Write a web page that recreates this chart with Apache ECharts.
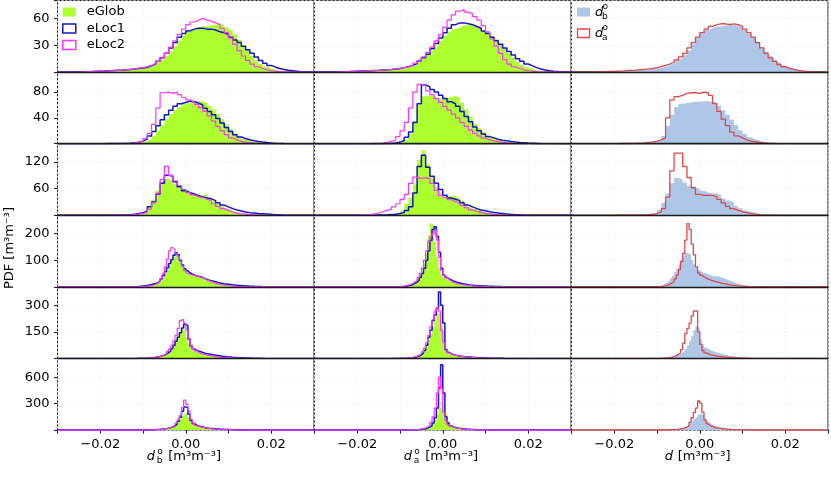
<!DOCTYPE html>
<html><head><meta charset="utf-8">
<script src="https://cdn.jsdelivr.net/npm/echarts@6/dist/echarts.min.js"></script>
<style>html,body{margin:0;padding:0;background:#fff}#c{width:831px;height:478px}</style>
</head><body><div id="c"></div>
<script>
// ---- bin layout per row ----
const rowBinStart = [-0.025, -0.02, -0.02, -0.012, -0.012, -0.012];
const rowBinWidth = [0.001, 0.001, 0.001, 0.0005, 0.0005, 0.0005];
const rowYMax = [80, 111, 161, 268, 404, 812];
const rowYStep = [30, 40, 60, 100, 150, 300];
const xLabelValues = [-0.02, 0, 0.02];
const seriesNames = ['eGlob', 'eLoc1', 'eLoc2'];

// ---- row 1 ----
const glob_b1 = [0.5,0.5,0.5,1,1,1,1.5,1.5,2,2, 2.5,3,3,3.5,4, 5,6,8,11,14,18,23,29,35,41, 45,48,50,51,51,52,53,54,53,50, 47,42,36,30,24,18,13,9,6,4, 2.5,1.5,1,0.5,0.3];
const loc1_b1 = [0.5,0.5,0.7,1,1,1.2,1.5,1.7,2,2.2, 2.5,3,3.5,4,4.5, 5.5,7,9,12,16,21,27,33,39,43, 46,48,49,49,48,48,47,45,44,42, 39,36,33,29,25,21,17,13,10,7.5, 5.5,4,3,2,1.5,1,0.5,0.3];
const loc2_b1 = [0.3,0.5,0.5,0.7,1,1,1.3,1.5,2,2.2, 2.5,3,3.5,4.5,5, 6,7.5,9.5,12,16,21,28,35,42,48, 53,56,58,60,58,57,55,53,49,44, 38,31,24,18,13,9,6,4,2.5,1.5, 1,0.5,0.3];
const glob_a1 = [0.3,0.5,0.5,0.7,0.8,1,1.2,1.4,1.6,1.8, 2,2.3,2.7,3,3.5, 4,5,6.5,8.5,11,15,19,24,29,35, 41,45,48,50,52,53,52,51,49,46, 44,41,37,32,27,21,16,11,8,5.5, 3.5,2,1.2,0.7,0.4];
const loc1_a1 = [0.3,0.5,0.6,0.8,1,1.2,1.4,1.6,1.8,2, 2.3,2.6,3,3.5,4, 5,6,7.5,9.5,12.5,16,20,26,32,38, 44,49,53,55,55,54,53,51,49,46, 43,39,35,31,27,23,19,15,12,9, 7,5,3.5,2.3,1.5,1,0.6,0.3];
const loc2_a1 = [0.3,0.5,0.6,0.8,1,1.2,1.4,1.6,1.8,2, 2.3,2.6,3,3.5,4, 5,6,7.5,10,13,17,22,28,35,42, 50,58,64,68,70,67,65,62,58,52, 45,37,29,21,14,9,6,4,2.5,1.5, 1,0.5,0.3];
const db_1 = [0.3,0.4,0.5,0.6,0.8,1,1.2,1.5,1.8,2, 2.3,2.6,3,3.5,4.2, 5,6,7.5,9.5,12,15,19,24,31,38, 43,47,49,51,51,52,53,53,52,50, 47,43,39,34,28,23,18,14,10.5,7.5, 5.5,4,3,2,1.3,0.8,0.4,0.2];
const da_1 = [0.3,0.4,0.5,0.7,0.9,1.1,1.3,1.6,2,2.3, 2.7,3.1,3.6,4.2,5, 6,7.5,9,11,13.5,17,21,27,33,39, 44,48,51,53,54,54,53,54,53,51, 48,44,39,33,27,21,16,12,8.5,6, 4.2,3,2,1.3,0.8,0.5,0.3];

// ---- row 2 ----
const glob_b2 = [0,0,0,0.1,0.2, 0.3,0.5,1,1.5,2.5, 4,7,12,20,29,38,46,52,57,61, 64,66,66,65,63,59,53,46,38,30, 22,16,11,7,4.5,3,2,1.2,0.7,0.4];
const loc1_b2 = [0.1,0.2,0.3,0.3,0.4, 0.5,0.8,1.3,2.2,4, 7,12,19,28,37,45,52,58,62,64, 66,65,63,60,55,50,45,39,32,25, 19,14,10.5,8,6,4.5,3.5,2.5,1.8,1.2, 0.8,0.5,0.3];
const loc2_b2 = [0,0.1,0.1,0.2,0.3, 0.4,0.7,1.2,2,4, 8,16,30,55,79,80,78,80,76,72, 68,65,61,56,50,43,35,27,20,14, 9,6,3.5,2,1.2,0.7,0.4];
const glob_a2 = [0,0,0,0,0, 0,0.2,0.4,0.8,1.5, 2.5,6,16,35,60,73,75,73,71,70, 71,72,74,72,64,53,42,31,24,18, 12,9,6,4.5,3,2.3,1.5,1,0.6,0.3];
const loc1_a2 = [0,0,0,0.1,0.1, 0.2,0.4,0.7,1.2,2.5, 5,10,18,33,62,91,88,84,80,75, 70,65,62,58,50,42,34,26,20,15, 11,9,7,5.5,4.5,3.5,2.7,2,1.5,1, 0.7,0.4,0.2];
const loc2_a2 = [0.1,0.2,0.3,0.5,0.7, 1,2,3.5,6,11, 20,33,55,80,92,90,82,76,70,64, 58,52,46,40,33,27,21,16,12,8.5, 6,4.5,3.2,2.2,1.5,1,0.6,0.3];
const db_2 = [0.2,0.3,0.4,0.5,0.7, 0.9,1.2,1.6,2.3,3.2, 5,12,28,45,57,62,63,64,65,65, 66,66,65,63,59,52,45,37,29,21, 15,10,7,5,3,2,1.3,0.8,0.5,0.3];
const da_2 = [0.2,0.3,0.4,0.5,0.7, 1,1.4,2,2.8,4, 6,9,40,68,73,75,78,79,79,78, 80,79,75,62,50,38,28,18,12,9, 6,4,3,2,1.3,0.8,0.5,0.3];

// ---- row 3 ----
const glob_b3 = [0,0,0,0.2,0.4, 0.6,1,1.5,2.5,4, 8,18,35,55,75,82,78,70,62,58, 54,50,46,45,48,38,32,26,20,14, 10,6.5,4,2.5,1.5,1,0.5,0.3];
const loc1_b3 = [0.1,0.2,0.3,0.5,0.7, 1,1.5,2.5,4,6, 10,19,30,48,72,90,88,76,64,55, 51,48,44,41,39,37,33,28,23,19, 15,12,9.5,7.5,6,5,4,3.5,3,2.2, 1.5,1,0.5];
const loc2_b3 = [0.1,0.1,0.2,0.3,0.5, 0.7,1,1.5,2.5,4, 7,14,28,50,80,110,90,74,67,58, 51,46,42,40,36,32,26,20,15,11, 7.5,5,3.5,2.5,1.5,1,0.5,0.3];
const glob_a3 = [0,0,0,0,0.2, 0.4,0.6,1,1.5,3, 10,26,40,70,125,146,115,85,64,52, 45,43,45,40,32,25,19,14,10,7, 5,3.5,2.5,1.5,1,0.6,0.3];
const loc1_a3 = [0.1,0.1,0.2,0.3,0.5, 0.8,1.2,1.8,2.5,4, 6,11,19,50,110,135,108,88,72,58, 45,39,36,33,28,23,19,15,12,10, 8,6.5,5,4,3,2.2,1.5,1,0.6,0.3];
const loc2_a3 = [0.7,1,1.5,2.5,5, 8,11,14,19,26, 36,47,72,86,83,84,83,72,56,45, 40,35,31,27,22,17,12,9,6.5,4.5, 3,2,1.2,0.7,0.4];
const db_3 = [0.2,0.3,0.4,0.5,0.7, 1,1.5,2.2,3.2,5, 12,28,49,72,84,80,74,66,62,60, 55,51,49,49,45,38,33,29,21,16, 11,8,5,3.5,2.5,1.5,1,0.6,0.3];
const da_3 = [0.1,0.2,0.3,0.4,0.5, 0.7,1,1.5,2.5,4, 8,15,41,100,140,140,110,85,62,47, 45,45,45,42,36,28,20,15,11,8, 6,4,2.5,1.5,1,0.5,0.3];

// ---- row 4 ----
const glob_b4 = [0.5,0.7,1,1.5,2,3,4,5.5,7.5,10, 14,19,26,35,48,63,80,97,112,124, 120,103,85,68,56,50,46,44,42,40, 38,35,32,29,26,23,20.5,18,15.5,13.5, 12,10.5,9,7.5,6.5,5.5,4.7,4,3.3,2.7, 2.2,1.8,1.5,1.2,1,0.8,0.6,0.5,0.4,0.3];
const loc1_b4 = [1,1.5,2,3,4,5.5,7,9,11,13, 16,22,30,42,57,72,88,102,118,128, 120,100,82,68,60,53,48,45,42,40, 38,35,31,28,25,23,21,19,17,15, 13.5,12,11,10,9,8,7,6.3,5.6,5, 4.4,3.8,3.3,2.8,2.4,2,1.7,1.4,1.1,0.8];
const loc2_b4 = [0.3,0.5,0.8,1.2,1.8,2.5,3.5,5,7,10, 14,20,32,50,75,105,135,147,140,125, 115,96,78,62,52,47,45,43,41,39, 37,34,30,26,23,20,17,14,11.5,9.5, 8,6.5,5.2,4.2,3.4,2.7,2.1,1.6,1.2,0.9, 0.7,0.5,0.4,0.3,0.2];
const glob_a4 = [0,0.2,0.4,0.7,1,2,3.5,5.5,8,12, 17,24,33,45,60,85,125,190,237,230, 170,110,70,48,36,29,24,20,16.5,14, 12,10,8.5,7.2,6.2,5.3,4.5,3.8,3.2,2.7, 2.3,2,1.7,1.4,1.2,1,0.8,0.6,0.5,0.4, 0.3,0.2];
const loc1_a4 = [0.2,0.3,0.5,0.7,1,1.5,2.5,4,6,9, 13,18,25,36,50,70,100,135,175,215, 225,190,130,70,45,36,30,26,22,19, 16.5,14.5,12.5,11,9.5,8.3,7.3,6.5,5.7,5, 4.4,3.9,3.4,3,2.6,2.3,2,1.7,1.5,1.3, 1.1,0.9,0.7,0.5,0.4,0.3];
const loc2_a4 = [0.3,0.5,0.8,1.2,2,3,4.5,6.5,9,13, 18,25,35,50,70,100,135,172,190,200, 212,175,110,62,44,34,27,22,18,15, 12.5,10.5,9,7.5,6.3,5.3,4.5,3.8,3.2,2.7, 2.3,1.9,1.6,1.3,1,0.8,0.6,0.5,0.4,0.3, 0.2];
const db_4 = [0.5,0.8,1.2,2,3,5,8,12,17,23, 32,42,55,68,82,100,117,127,125,118, 100,85,72,62,57,53,50,47,44,42, 41,40,39,36,33,30,27,24,21,18, 15,12.5,10,8,6.5,5,4,3,2.3,1.7, 1.2,0.9,0.6,0.4,0.3];
const da_4 = [0.2,0.3,0.5,0.8,1.2,2,3,4.5,7,10, 14,20,30,45,65,95,125,175,237,215, 160,120,75,52,44,38,33,29,26,23.5, 21,18.5,16.5,14.5,12.5,11,9.5,8,6.8,5.7, 4.7,3.9,3.2,2.6,2.1,1.7,1.3,1,0.8,0.6, 0.4,0.3];

// ---- row 5 ----
const glob_b5 = [0.5,0.7,1,1.3,1.7,2.3,3,4,5.5,7, 9,12,16,21,28,37,48,60,78,100, 125,150,165,158,120,85,60,46,38,33, 29,26,23,20.5,18.5,16.5,15,13.5,12,10.5, 9,8,7,6,5,4.3,3.6,3,2.5,2, 1.6,1.3,1,0.8,0.6,0.5,0.4,0.3,0.2,0.1];
const loc1_b5 = [0.6,0.8,1.1,1.5,2,2.7,3.5,4.7,6,7.5, 9.5,12,15,19,25,33,43,56,75,98, 120,145,172,193,185,110,70,55,47,42, 38,34,30,27,25,23,21,19,17,15, 13,11.5,10,9,8,7,6.2,5.5,4.8,4.2, 3.6,3.1,2.6,2.2,1.8,1.5,1.2,1,0.8,0.6];
const loc2_b5 = [0.4,0.6,0.8,1.1,1.5,2,2.7,3.6,4.8,6.3, 8.5,11,15,20,28,40,55,75,100,130, 170,215,221,200,160,115,75,55,43,36, 30,26,22.5,19.5,17,15,13,11,9.5,8, 6.8,5.7,4.8,4,3.3,2.7,2.2,1.8,1.4,1.1, 0.8,0.6,0.4,0.3,0.2];
const glob_a5 = [0.2,0.3,0.4,0.6,0.8,1.1,1.5,2.1,3,4.2, 6,9,13,19,28,42,65,100,140,180, 215,250,265,200,110,50,30,23,19,16, 13.8,12,10.5,9.2,8,7,6.1,5.3,4.6,4, 3.5,3,2.6,2.2,1.9,1.6,1.3,1.1,0.9,0.7, 0.5,0.4,0.3];
const loc1_a5 = [0.3,0.4,0.6,0.8,1.1,1.5,2,2.8,3.8,5.2, 7,10,14,20,30,45,75,120,160,215, 245,285,375,300,200,50,35,27,22,19, 16.5,14.5,12.8,11.3,10,8.8,7.8,6.9,6.1,5.4, 4.8,4.2,3.7,3.2,2.8,2.4,2.1,1.8,1.5,1.3, 1.1,0.9,0.7,0.5,0.4,0.3];
const loc2_a5 = [0.3,0.5,0.7,1,1.4,2,2.8,3.8,5.2,7, 9.5,13,18,26,38,58,90,130,180,220, 268,287,268,160,90,45,32,26,22,19, 16.5,14.3,12.3,10.6,9.2,8,7,6,5.2,4.5, 3.9,3.3,2.8,2.4,2,1.7,1.4,1.1,0.9,0.7, 0.5,0.4,0.3];
const db_5 = [0.5,0.7,1,1.3,1.7,2.3,3,4,5.5,7.5, 10,13,17,21,26,32,42,55,75,100, 125,160,182,172,110,78,62,55,49,44, 39,35,31,27,24,21,18.5,16,14,12, 10.5,9,7.8,6.7,5.7,4.9,4.2,3.5,3,2.5, 2,1.6,1.3,1,0.8,0.6,0.4,0.3];
const da_5 = [0.3,0.4,0.6,0.8,1.1,1.5,2,2.8,4,5.5, 8,11,16,23,32,50,85,140,170,200, 240,268,268,150,80,45,32,26,22,19, 16.5,14.5,12.5,11,9.5,8.3,7.2,6.2,5.4,4.7, 4,3.4,2.9,2.5,2.1,1.8,1.5,1.2,1,0.8, 0.6,0.4,0.3];

// ---- row 6 ----
const glob_b6 = [0.3,0.4,0.6,0.8,1.1,1.5,2,2.7,3.6,4.8, 6.5,8.5,11,14,18,23,30,40,55,80, 110,130,160,190,175,140,110,85,68,55, 45,37,31,26,22,19,16,14,12,10, 8.5,7.2,6,5,4.2,3.5,2.9,2.4,2,1.6, 1.3,1,0.8,0.6,0.5,0.4,0.3];
const loc1_b6 = [0.4,0.5,0.7,1,1.3,1.8,2.4,3.2,4.2,5.5, 7,9,11.5,14.5,18,22.5,28,36,48,70, 100,145,215,262,255,180,110,75,58,47, 40,34,29,25,22,19.5,17,15,13,11.3, 9.8,8.5,7.3,6.3,5.4,4.6,3.9,3.3,2.8,2.3, 1.9,1.6,1.3,1,0.8,0.6,0.5,0.4,0.3];
const loc2_b6 = [0.3,0.4,0.6,0.8,1.1,1.5,2,2.7,3.6,4.8, 6.3,8.3,11,14,18,23,30,40,56,80, 115,165,255,341,292,217,124,78,55,45, 37,31,26,22,18.5,15.5,13,11,9.2,7.7, 6.4,5.3,4.4,3.6,3,2.4,2,1.6,1.3,1, 0.8,0.6,0.4,0.3];
const glob_a6 = [0.2,0.3,0.4,0.5,0.7,0.9,1.2,1.6,2.1,2.8, 3.7,4.9,6.5,8.7,11.5,15.5,21,30,45,75, 120,180,250,330,290,180,100,62,44,34, 28,23,19,16,13.5,11.3,9.5,8,6.7,5.6, 4.7,3.9,3.3,2.7,2.3,1.9,1.6,1.3,1.1,0.9, 0.7,0.5,0.4,0.3];
const loc1_a6 = [0.2,0.3,0.4,0.5,0.7,0.9,1.2,1.6,2.1,2.8, 3.7,4.9,6.5,8.7,11.5,15,22,33,50,80, 140,250,480,742,420,150,80,50,37,29, 24,20,17,14.5,12.5,10.7,9.2,7.9,6.8,5.8, 5,4.3,3.7,3.2,2.7,2.3,2,1.7,1.4,1.2, 1,0.8,0.6,0.5,0.4,0.3];
const loc2_a6 = [0.3,0.4,0.5,0.7,0.9,1.2,1.6,2.2,3,4, 5.3,7,9.3,12.5,17,24,35,55,90,150, 250,420,600,470,200,105,60,42,32,26, 21,17.5,14.5,12,10,8.4,7,5.9,4.9,4.1, 3.4,2.8,2.3,1.9,1.6,1.3,1,0.8,0.6,0.5, 0.4,0.3];
const db_6 = [0.4,0.5,0.7,0.9,1.2,1.6,2.1,2.8,3.7,4.8, 6.2,8,10.5,13.5,17.5,23,30,42,56,85, 105,130,150,175,187,165,125,100,80,62, 52,43,36,30,25,21,18,15,12.5,10.5, 8.7,7.2,6,5,4.1,3.4,2.8,2.3,1.9,1.5, 1.2,0.9,0.7,0.5,0.4,0.3];
const da_6 = [0.3,0.4,0.5,0.7,0.9,1.2,1.6,2.1,2.8,3.7, 5,6.5,8.5,11,14,18,24,33,50,90, 140,200,250,330,305,200,115,70,48,38, 31,26,22,18.5,15.5,13,11,9.2,7.7,6.4, 5.3,4.4,3.6,3,2.5,2,1.6,1.3,1,0.8, 0.6,0.4,0.3];

// ---- table built from the arrays ----
const panelData = [
  [[glob_b1, loc1_b1, loc2_b1], [glob_a1, loc1_a1, loc2_a1], [db_1, da_1]],
  [[glob_b2, loc1_b2, loc2_b2], [glob_a2, loc1_a2, loc2_a2], [db_2, da_2]],
  [[glob_b3, loc1_b3, loc2_b3], [glob_a3, loc1_a3, loc2_a3], [db_3, da_3]],
  [[glob_b4, loc1_b4, loc2_b4], [glob_a4, loc1_a4, loc2_a4], [db_4, da_4]],
  [[glob_b5, loc1_b5, loc2_b5], [glob_a5, loc1_a5, loc2_a5], [db_5, da_5]],
  [[glob_b6, loc1_b6, loc2_b6], [glob_a6, loc1_a6, loc2_a6], [db_6, da_6]]
];

// ---- styling ----
const FONT = '"DejaVu Sans", sans-serif';
const GREEN = '#adff2f', BLUE = '#1414c8', MAGENTA = '#ff33ff', LIGHTBLUE = '#aec7e8', RED = '#e0474b';
const SPINE = '#1a1a1a', GRIDC = '#ededed';
const colLeft = [57.5, 314.5, 571.5], colW = 256.5, rowTop0 = 0.5, rowH = 71.6;
const XMIN = -0.03, XMAX = 0.03;

function stepData(vals, start, w) {
  const pts = [[XMIN, 0], [start, 0]];
  vals.forEach((v, i) => pts.push([start + i * w, v]));
  pts.push([start + vals.length * w, 0]);
  pts.push([XMAX, 0]);
  return pts;
}

const grids = [], xAxes = [], yAxes = [], series = [];
const topAxes = [];
for (let r = 0; r < 6; r++) {
  for (let c = 0; c < 3; c++) {
    const gi = r * 3 + c;
    grids.push({left: colLeft[c], top: rowTop0 + r * rowH, width: colW, height: rowH,
      show: true, borderColor: SPINE, borderWidth: 1, containLabel: false});
    const bottom = r === 5;
    xAxes.push({type: 'value', gridIndex: gi, min: XMIN, max: XMAX, interval: 0.01, position: 'bottom',
      axisLine: {show: false, onZero: false},
      axisTick: {show: bottom, length: 3.5, inside: false, lineStyle: {color: SPINE, width: 1}},
      axisLabel: {show: bottom, margin: 8, fontSize: 13, fontFamily: FONT, color: '#000',
        formatter: v => {
          const hit = xLabelValues.find(t => Math.abs(t - v) < 1e-9);
          return hit === undefined ? '' : hit.toFixed(2).replace('-', '\u2212');
        }},
      splitLine: {show: true, lineStyle: {color: GRIDC, type: [2, 2], width: 0.8}}
    });
    if (r > 0) topAxes.push({type: 'value', gridIndex: gi, min: XMIN, max: XMAX, position: 'top', z: 10,
      axisLine: {show: true, onZero: false, lineStyle: {color: SPINE, width: 1.3}},
      axisTick: {show: false}, axisLabel: {show: false}, splitLine: {show: false}});
    const step = rowYStep[r];
    yAxes.push({type: 'value', gridIndex: gi, min: 0, max: rowYMax[r], interval: step, position: 'left',
      axisLine: {show: false, onZero: false},
      axisTick: {show: c === 0, length: 3.5, inside: false, lineStyle: {color: SPINE, width: 1}},
      axisLabel: {show: c === 0, margin: 8, fontSize: 13, fontFamily: FONT, color: '#000',
        formatter: v => (v > 0 && Math.abs(v / step - Math.round(v / step)) < 1e-6) ? String(v) : ''},
      splitLine: {show: true, lineStyle: {color: GRIDC, type: [2, 2], width: 0.8}}
    });
    const arrs = panelData[r][c];
    const start = rowBinStart[r], w = rowBinWidth[r];
    const clip = !bottom;
    if (c < 2) {
      series.push({type: 'line', name: seriesNames[0], xAxisIndex: gi, yAxisIndex: gi, step: 'end',
        data: stepData(arrs[0], start, w), symbol: 'none', silent: true, z: 2,
        lineStyle: {width: 0, opacity: 0}, itemStyle: {color: GREEN},
        areaStyle: {color: GREEN, opacity: 1}});
      series.push({type: 'line', name: seriesNames[1], xAxisIndex: gi, yAxisIndex: gi, step: 'end',
        data: stepData(arrs[1], start, w), symbol: 'none', silent: true, z: 3, clip: clip,
        lineStyle: {width: 1.5, color: BLUE}, itemStyle: {color: BLUE}});
      series.push({type: 'line', name: seriesNames[2], xAxisIndex: gi, yAxisIndex: gi, step: 'end',
        data: stepData(arrs[2], start, w), symbol: 'none', silent: true, z: 4, clip: clip,
        lineStyle: {width: 1.2, color: MAGENTA}, itemStyle: {color: MAGENTA}});
    } else {
      series.push({type: 'line', name: 'db', xAxisIndex: gi, yAxisIndex: gi, step: 'end',
        data: stepData(arrs[0], start, w), symbol: 'none', silent: true, z: 2,
        lineStyle: {width: 0, opacity: 0}, itemStyle: {color: LIGHTBLUE},
        areaStyle: {color: LIGHTBLUE, opacity: 1}});
      series.push({type: 'line', name: 'da', xAxisIndex: gi, yAxisIndex: gi, step: 'end',
        data: stepData(arrs[1], start, w), symbol: 'none', silent: true, z: 3, clip: clip,
        lineStyle: {width: 1.3, color: RED}, itemStyle: {color: RED}});
    }
  }
}

// text pieces (axis titles, legend labels for column 3, y title)
const T = (text, x, y, size, italic, extra) => Object.assign({type: 'text', x: x, y: y, z: 20, silent: true,
  style: {text: text, fill: '#000', font: (italic ? 'italic ' : '') + size + 'px ' + FONT,
    align: 'left', verticalAlign: 'middle'}}, extra || {});
const colCenter = c => colLeft[c] + colW / 2;
const yTitle = 457;
const graphics = [
  T('d', colCenter(0) - 39, yTitle, 13, true),
  T('o', colCenter(0) - 28.5, yTitle - 5, 9, false),
  T('b', colCenter(0) - 29, yTitle + 4, 9, false),
  T('[m\u00b3m\u207b\u00b3]', colCenter(0) - 17.5, yTitle, 13, false),
  T('d', colCenter(1) - 39, yTitle, 13, true),
  T('o', colCenter(1) - 28.5, yTitle - 5, 9, false),
  T('a', colCenter(1) - 29, yTitle + 4, 9, false),
  T('[m\u00b3m\u207b\u00b3]', colCenter(1) - 17.5, yTitle, 13, false),
  T('d', colCenter(2) - 35, yTitle, 13, true),
  T('[m\u00b3m\u207b\u00b3]', colCenter(2) - 22, yTitle, 13, false),
  {type: 'text', x: 10, y: 248, rotation: Math.PI / 2, z: 20, silent: true,
    style: {text: 'PDF [m\u00b3m\u207b\u00b3]', fill: '#000', font: '13px ' + FONT, align: 'center', verticalAlign: 'middle'}},
  {type: 'rect', z: 20, silent: true, shape: {x: 577, y: 7.5, width: 13, height: 9}, style: {fill: LIGHTBLUE}},
  {type: 'rect', z: 20, silent: true, shape: {x: 577.5, y: 29, width: 12, height: 8.5}, style: {fill: 'none', stroke: RED, lineWidth: 1.3}},
  T('d', 595, 12.5, 13, true),
  T('o', 602.5, 7, 9, false),
  T('b', 602, 16.5, 9, false),
  T('d', 595, 33.5, 13, true),
  T('o', 602.5, 28, 9, false),
  T('a', 602, 37.5, 9, false)
];

const chart = echarts.init(document.getElementById('c'), null, {renderer: 'canvas'});
chart.setOption({
  animation: false,
  backgroundColor: '#fff',
  grid: grids,
  xAxis: xAxes.concat(topAxes),
  yAxis: yAxes,
  series: series,
  legend: {
    left: 62, top: 5.5, orient: 'vertical', itemWidth: 13, itemHeight: 9, itemGap: 3.5,
    selectedMode: false, padding: 0,
    textStyle: {fontSize: 13, fontFamily: FONT, color: '#000', lineHeight: 13, padding: [0, 0, 0, 6]},
    data: [
      {name: seriesNames[0], icon: 'rect', itemStyle: {color: GREEN, borderWidth: 0}},
      {name: seriesNames[1], icon: 'rect', itemStyle: {color: 'rgba(255,255,255,0)', borderColor: BLUE, borderWidth: 1.5}},
      {name: seriesNames[2], icon: 'rect', itemStyle: {color: 'rgba(255,255,255,0)', borderColor: MAGENTA, borderWidth: 1.5}}
    ]
  },
  graphic: graphics
});
</script>
</body></html>
